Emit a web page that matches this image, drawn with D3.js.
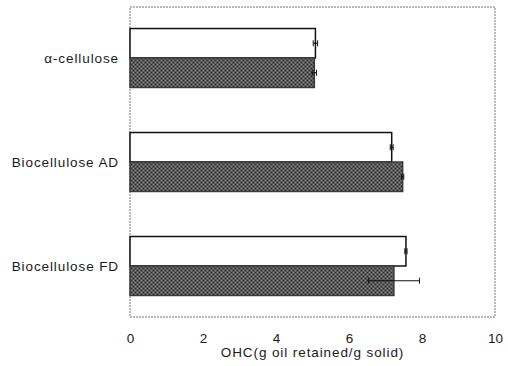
<!DOCTYPE html>
<html>
<head>
<meta charset="utf-8">
<script src="https://cdn.jsdelivr.net/npm/d3@7"></script>
<style>
  body { margin: 0; background: #fff; }
  text { font-family: "Liberation Sans", Arial, sans-serif; fill: #1a1a1a; }
</style>
</head>
<body>
<svg id="chart" width="508" height="366"></svg>
<script>
const categories = ["α-cellulose", "Biocellulose AD", "Biocellulose FD"];
const series = ["open", "filled"];
const openValues = [5.08, 7.17, 7.56];
const openErrors = [0.06, 0.04, 0.03];
const filledValues = [5.05, 7.47, 7.23];
const filledErrors = [0.06, 0.03, 0.70];
const xTicks = [0, 2, 4, 6, 8, 10];
const xTitle = "OHC(g oil retained/g solid)";

const svg = d3.select("#chart");
const margin = {left: 130, right: 13, top: 7, bottom: 49};
const width = 508, height = 366;

// pattern to mimic the dithered grey fill of the scanned bars
const defs = svg.append("defs");
const pat = defs.append("pattern")
    .attr("id", "dither")
    .attr("width", 4).attr("height", 4)
    .attr("patternUnits", "userSpaceOnUse");
pat.append("rect").attr("width", 4).attr("height", 4).attr("fill", "#8c8c8c");
[[0,0],[2,1],[1,2],[3,3],[3,0],[1,1],[2,3],[0,2]].forEach(([px,py]) => {
    pat.append("rect").attr("x", px).attr("y", py).attr("width", 1).attr("height", 1).attr("fill", "#262626");
});

const x = d3.scaleLinear().domain([0, 10]).range([margin.left, width - margin.right]);
const y = d3.scaleBand().domain(categories)
    .range([margin.top, height - margin.bottom])
    .paddingInner(0.433).paddingOuter(0.207);
const ySub = d3.scaleBand().domain(series).range([0, y.bandwidth()]);

const rows = categories.map((c, i) => ({
    cat: c,
    bars: [
        {s: "open", v: openValues[i], e: openErrors[i]},
        {s: "filled", v: filledValues[i], e: filledErrors[i]}
    ]
}));

// frame
svg.append("rect")
    .attr("x", x(0)).attr("y", margin.top)
    .attr("width", x(10) - x(0))
    .attr("height", height - margin.bottom - margin.top)
    .attr("fill", "none")
    .attr("stroke", "#777")
    .attr("stroke-width", 1)
    .attr("stroke-dasharray", "2,1");

const groups = svg.selectAll("g.row").data(rows).enter()
    .append("g").attr("class", "row")
    .attr("transform", d => `translate(0,${y(d.cat)})`);

groups.selectAll("rect.bar").data(d => d.bars).enter()
    .append("rect").attr("class", "bar")
    .attr("x", x(0))
    .attr("y", d => ySub(d.s))
    .attr("width", d => x(d.v) - x(0))
    .attr("height", ySub.bandwidth())
    .attr("fill", d => d.s === "open" ? "#fff" : "url(#dither)")
    .attr("stroke", d => d.s === "open" ? "#111" : "#3a3a3a")
    .attr("stroke-width", 1.5);

// error bars
const err = groups.selectAll("g.err").data(d => d.bars).enter()
    .append("g").attr("class", "err")
    .attr("transform", d => `translate(0,${ySub(d.s) + ySub.bandwidth() / 2})`);
err.append("line")
    .attr("x1", d => x(d.v - d.e)).attr("x2", d => x(d.v + d.e))
    .attr("stroke", "#111").attr("stroke-width", 1.2);
err.append("line")
    .attr("x1", d => x(d.v - d.e)).attr("x2", d => x(d.v - d.e))
    .attr("y1", -3).attr("y2", 3)
    .attr("stroke", "#111").attr("stroke-width", 1);
err.append("line")
    .attr("x1", d => x(d.v + d.e)).attr("x2", d => x(d.v + d.e))
    .attr("y1", -3).attr("y2", 3)
    .attr("stroke", "#111").attr("stroke-width", 1);

// category labels
svg.selectAll("text.cat").data(categories).enter()
    .append("text").attr("class", "cat")
    .attr("x", 119)
    .attr("y", d => y(d) + y.bandwidth() / 2 + 5)
    .attr("text-anchor", "end")
    .attr("font-size", 13.5)
    .attr("letter-spacing", 0.9)
    .text(d => d);

// x axis labels, no tick marks
const xAxis = svg.append("g")
    .attr("transform", `translate(0,${height - margin.bottom + 16})`)
    .call(d3.axisBottom(x).tickValues(xTicks).tickSize(0).tickPadding(0));
xAxis.select(".domain").remove();
xAxis.selectAll("text")
    .attr("font-size", 13.5)
    .attr("font-family", "Liberation Sans, Arial, sans-serif")
    .attr("fill", "#1a1a1a");

svg.append("text")
    .attr("x", (x(0) + x(10)) / 2)
    .attr("y", 357)
    .attr("text-anchor", "middle")
    .attr("font-size", 13.5)
    .attr("letter-spacing", 0.9)
    .text(xTitle);
</script>
</body>
</html>
